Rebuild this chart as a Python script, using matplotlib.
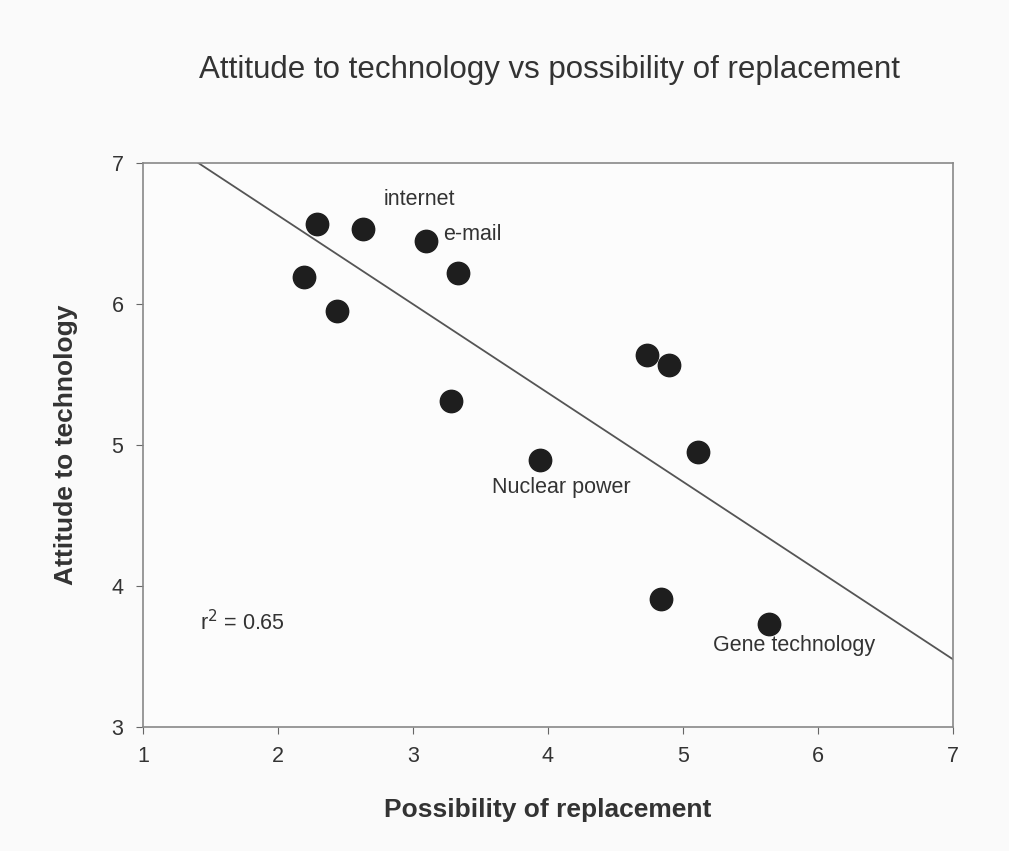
import numpy as np
from matplotlib import pyplot as plt

plt.rcParams['font.family'] = ['Liberation Sans', 'DejaVu Sans']

# data
replacement = [2.29, 2.63, 3.10, 3.33, 2.19, 2.44, 3.28, 3.94, 4.73, 4.90, 5.11, 4.84, 5.64]
attitude = [6.57, 6.53, 6.45, 6.22, 6.19, 5.95, 5.31, 4.89, 5.64, 5.57, 4.95, 3.91, 3.73]
line_x = [1.41, 7.0]
line_y = [7.0, 3.48]
labels = ['internet', 'e-mail', 'Nuclear power', 'Gene technology']
label_x = [3.05, 3.22, 4.10, 5.82]
label_y = [6.74, 6.49, 4.70, 3.58]
label_ha = ['center', 'left', 'center', 'center']

fig = plt.figure(figsize=(10.09, 8.51), dpi=100, facecolor='#fafafa')
ax = fig.add_axes([0.1417, 0.1457, 0.8028, 0.6628])
ax.set_facecolor('#fcfcfc')

# regression line
ax.plot(line_x, line_y, color='#555555', linewidth=1.3)
# points
ax.scatter(replacement, attitude, s=260, color='#1e1e1e', zorder=3)

for t, x, y, ha in zip(labels, label_x, label_y, label_ha):
    ax.text(x, y, t, ha=ha, va='center', fontsize=15.5, color='#333333')
ax.text(1.42, 3.74, r'r$^2$ = 0.65', ha='left', va='center', fontsize=15.5, color='#333333')

ax.set_xlim(1, 7)
ax.set_ylim(3, 7)
ax.set_xticks([1, 2, 3, 4, 5, 6, 7])
ax.set_yticks([3, 4, 5, 6, 7])
ax.tick_params(direction='out', length=5, color='#666666', labelsize=15.5, labelcolor='#333333', pad=9)
for s in ax.spines.values():
    s.set_color('#888888')
    s.set_linewidth(1.2)

ax.set_xlabel('Possibility of replacement', fontsize=19, fontweight='bold', color='#333333', labelpad=22)
ax.set_ylabel('Attitude to technology', fontsize=19, fontweight='bold', color='#333333', labelpad=24)
fig.text(0.545, 0.918, 'Attitude to technology vs possibility of replacement', ha='center', va='center',
         fontsize=22.5, color='#333333')

plt.savefig('out.png', dpi=100, facecolor=fig.get_facecolor())
